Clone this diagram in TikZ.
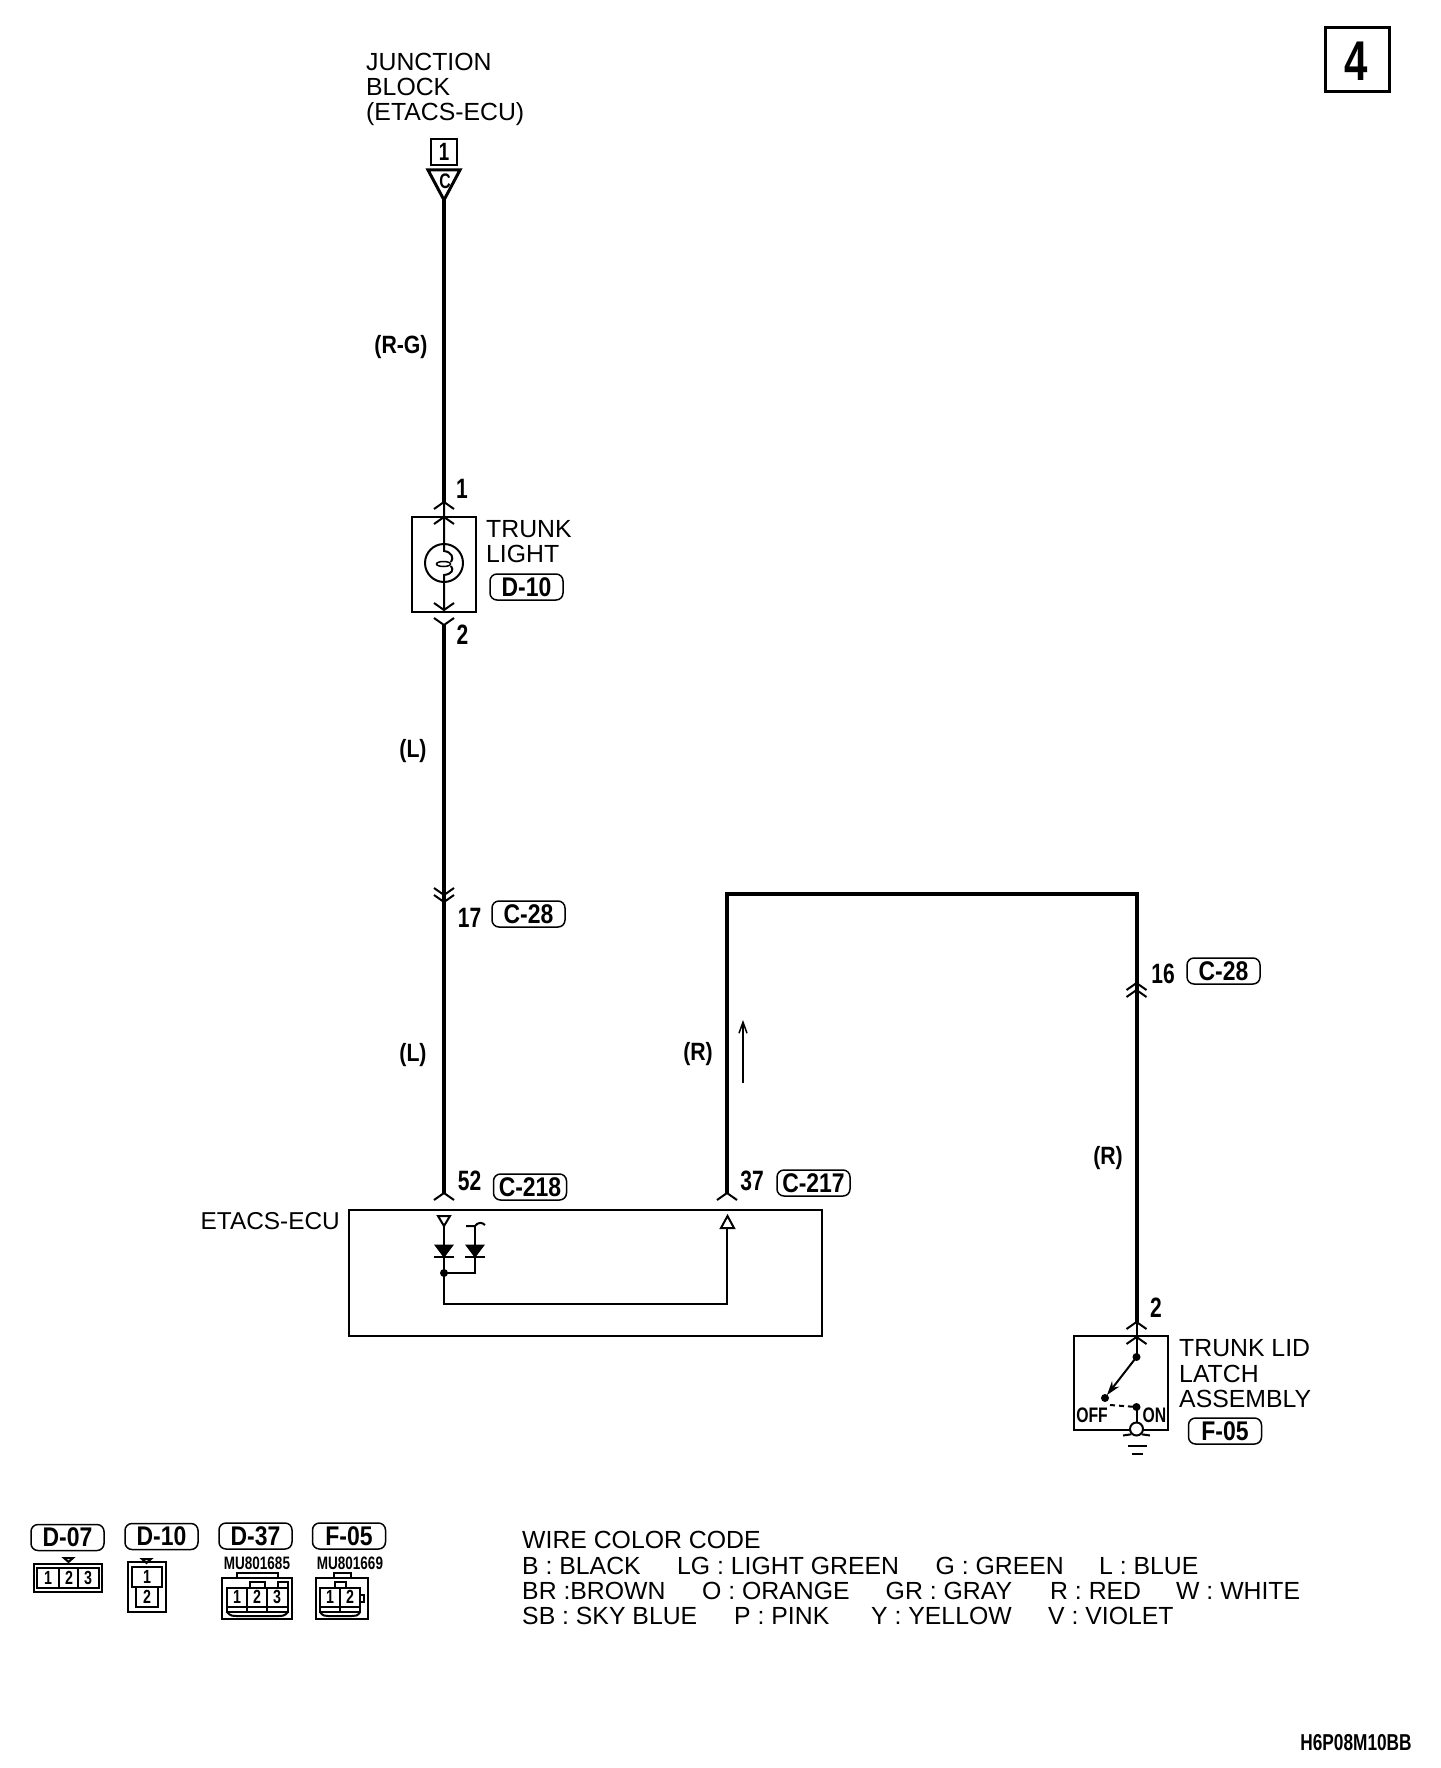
\documentclass[tikz,border=0pt]{standalone}
\usepackage{fontspec}
\setmainfont{Liberation Sans}
\newfontfamily\condfont[FakeStretch=0.75]{Liberation Sans}
\newfontfamily\tagfont[FakeStretch=0.85]{Liberation Sans}
\usetikzlibrary{positioning,arrows.meta}
\newcommand{\pinup}[1]{\draw[thinw, shift={(#1)}] (-10,7) -- (0,0) -- (10,7);}
\newcommand{\pindown}[1]{\draw[thinw, shift={(#1)}] (-10,-7) -- (0,0) -- (10,-7);}
\tikzset{
	wire/.style={line width=4pt},
	thinw/.style={line width=2pt},
	pill/.style={draw, line width=1.5pt, rounded corners=7pt, minimum width=73pt, minimum height=26pt, inner sep=0pt, font=\tagfont\bfseries\fontsize{27}{27}\selectfont},
	name text/.style={anchor=base west, inner sep=0pt, font=\fontsize{24.8}{25}\selectfont},
	pinno/.style={inner sep=0pt, font=\condfont\bfseries\fontsize{28}{28}\selectfont},
	wirelabel/.style={inner sep=0pt, font=\tagfont\bfseries\fontsize{25}{25}\selectfont},
	smallno/.style={inner sep=0pt, font=\condfont\bfseries\fontsize{19}{19}\selectfont},
	partno/.style={inner sep=0pt, font=\condfont\bfseries\fontsize{18}{18}\selectfont},
	housing/.style={draw, line width=2pt, inner sep=0pt},
	diode/.style={fill=black, draw=black, line width=1pt}
}
\begin{document}
\begin{tikzpicture}[x=1pt, y=-1pt]
	\useasboundingbox (0,0) rectangle (1440,1768);

	\node[housing, minimum width=64pt, minimum height=64pt, line width=3pt] (sheetbox) at (1357,60) {};
	\node[inner sep=0pt, font=\condfont\bfseries\fontsize{56}{56}\selectfont] (sheetno) at (1356,61) {4};

	\node[name text] (jb1) at (366,71) {JUNCTION};
	\node[name text] (jb2) at (366,96) {BLOCK};
	\node[name text] (jb3) at (366,121) {(ETACS-ECU)};
	\node[housing, minimum width=26pt, minimum height=26pt] (jbno) at (444,152) {};
	\node[smallno, font=\condfont\bfseries\fontsize{25}{25}\selectfont] (jbone) at (jbno.center) {1};
	\coordinate (jbtip) at (444,200);
	\draw[line width=3pt] (428,170) -- (460,170) -- (jbtip) -- cycle;
	\node[smallno, font=\condfont\bfseries\fontsize{21}{21}\selectfont] (jbc) at (445,181) {C};

	\coordinate (lampin) at (444,502);
	\coordinate (lampout) at (444,625);
	\coordinate (c28a) at (444,902);
	\coordinate (c28b) at (444,895);
	\coordinate (in52) at (444,1193);
	\draw[wire] (jbtip) -- (lampin);
	\draw[wire] (lampout) -- (in52);
	\node[wirelabel] (lblrg) at (401,347) {(R-G)};
	\node[wirelabel] (lbll1) at (413,751) {(L)};
	\node[wirelabel] (lbll2) at (413,1055) {(L)};

	\node[pinno] (pinone) at (462,489) {1};
	\node[pinno] (pintwo) at (462.5,635) {2};
	\node[draw, line width=2pt, inner sep=0pt, minimum width=64pt, minimum height=95pt] (lamp) at (444,564.5) {};
	\node[draw, circle, line width=2pt, inner sep=0pt, minimum size=38pt] (bulb) at (444,563) {};
	\coordinate (lampa) at (444,517);
	\coordinate (lampb) at (444,610);
	\draw[thinw] (lampin) -- (444,551) .. controls (452,552) and (454,558) .. (451,562);
	\draw[line width=1.5pt] (443.5,564) ellipse (7 and 2.5);
	\draw[thinw] (451,566) .. controls (454,570) and (452,574) .. (444,575) -- (lampb);
	\pinup{lampin}
	\pinup{lampa}
	\pindown{lampb}
	\pindown{lampout}
	\node[name text] (lamp1) at (486,537) {TRUNK};
	\node[name text] (lamp2) at (486,562) {LIGHT};
	\node[pill] (tagdten) at (526.5,587) {D-10};

	\pindown{c28b}
	\pindown{c28a}
	\node[pinno] (pinseventeen) at (469.5,918) {17};
	\node[pill] (tagcone) at (528.5,914) {C-28};

	\coordinate (in37) at (727,1193);
	\coordinate (cornera) at (727,894);
	\coordinate (cornerb) at (1136.5,894);
	\coordinate (latchin) at (1136.5,1322);
	\coordinate (c28c) at (1136.5,983);
	\coordinate (c28d) at (1136.5,990);
	\draw[wire] (in37) -- (cornera) -- (cornerb) -- (latchin);
	\pinup{c28c}
	\pinup{c28d}
	\node[pinno] (pinsixteen) at (1163,974) {16};
	\node[pill] (tagctwo) at (1223.5,971) {C-28};
	\node[wirelabel] (lblr1) at (698,1054) {(R)};
	\node[wirelabel] (lblr2) at (1108,1158) {(R)};
	\coordinate (flowa) at (743,1083);
	\coordinate (flowb) at (743,1020);
	\draw[line width=1.5pt, -{Straight Barb[length=11pt,width=8pt]}] (flowa) -- (flowb);

	\pinup{in52}
	\pinup{in37}
	\node[pinno] (pinfiftytwo) at (469.5,1181) {52};
	\node[pill] (tagceight) at (530,1187) {C-218};
	\node[pinno] (pinthirtyseven) at (752,1181) {37};
	\node[pill] (tagcseven) at (813.5,1183) {C-217};

	\node[name text, anchor=base east, font=\fontsize{24.4}{25}\selectfont] (ecuname) at (340,1229) {ETACS-ECU};
	\node[draw, line width=2.5pt, inner sep=0pt, minimum width=473pt, minimum height=126pt] (ecu) at (585.5,1273) {};
	\coordinate (jointa) at (444,1273);
	\coordinate (ecuin) at (727,1228);
	\draw[thinw] (438,1216) -- (450,1216) -- (444,1226) -- cycle;
	\draw[thinw] (444,1226) -- (jointa);
	\draw[thinw] (475,1226) -- (475,1273) -- (jointa);
	\draw[thinw] (466,1226) -- (475,1226) .. controls (478,1222) and (482,1222) .. (485,1225);
	\foreach \x in {444, 475} {
		\draw[diode] (\x-9,1245) -- (\x+9,1245) -- (\x,1257) -- cycle;
		\draw[thinw] (\x-10,1257) -- (\x+10,1257);
	}
	\fill (jointa) circle (4);
	\draw[thinw] (jointa) -- (444,1304) -- (727,1304) -- (ecuin);
	\draw[thinw] (721,1228) -- (734,1228) -- (727.5,1216) -- cycle;

	\node[pinno] (pinlatch) at (1156,1308) {2};
	\node[draw, line width=2pt, inner sep=0pt, minimum width=94pt, minimum height=94pt] (latch) at (1121,1383) {};
	\coordinate (lata) at (1136.5,1337);
	\coordinate (latb) at (1136.5,1357);
	\coordinate (latc) at (1105,1398);
	\coordinate (latd) at (1136.5,1407);
	\draw[thinw] (latchin) -- (latb);
	\pinup{latchin}
	\pinup{lata}
	\fill (latb) circle (4);
	\fill (latc) circle (4);
	\fill (latd) circle (4);
	\draw[thinw, -{Stealth[length=14pt,width=9pt]}] (latb) -- (1107,1395);
	\draw[thinw, dash pattern=on 5pt off 4pt] (1110,1405) -- (latd);
	\node[draw, circle, line width=2pt, fill=white, inner sep=0pt, minimum size=13pt] (gndlamp) at (1136.5,1429) {};
	\draw[thinw] (latd) -- (gndlamp);
	\draw[thinw] (1123,1435.5) -- (gndlamp.south west);
	\draw[thinw] (gndlamp.south east) -- (1150,1435.5);
	\draw[thinw] (1128,1446) -- (1147,1446);
	\draw[thinw] (1132,1454) -- (1143,1454);
	\node[smallno, font=\condfont\bfseries\fontsize{21}{21}\selectfont] (latoff) at (1092,1415) {OFF};
	\node[smallno, font=\condfont\bfseries\fontsize{21}{21}\selectfont] (laton) at (1154.5,1415) {ON};
	\node[name text] (lat1) at (1179,1356) {TRUNK LID};
	\node[name text] (lat2) at (1179,1382) {LATCH};
	\node[name text] (lat3) at (1179,1407) {ASSEMBLY};
	\node[pill] (tagfzero) at (1225,1431) {F-05};

	\node[pill] (keydseven) at (67.5,1537.5) {D-07};
	\node[pill] (keydten) at (161.5,1536.5) {D-10};
	\node[pill] (keydthree) at (255.5,1536) {D-37};
	\node[pill] (keyfzero) at (349,1536) {F-05};

	\draw[thinw] (34,1564) rectangle (102,1592);
	\draw[thinw] (37,1568) rectangle (99,1588);
	\draw[thinw] (59,1568) -- (59,1588);
	\draw[thinw] (78,1568) -- (78,1588);
	\draw[thinw] (64,1558) -- (73,1558) -- (68.5,1562) -- cycle;
	\foreach \x/\t in {48/1, 69/2, 88/3} {
		\node[smallno] (dseven\t) at (\x,1578) {\t};
	}

	\draw[thinw] (128,1562) rectangle (166,1612);
	\draw[thinw] (132,1567) rectangle (162,1587);
	\draw[thinw] (136,1587) rectangle (158,1607);
	\draw[thinw] (142,1559) -- (151,1559) -- (146.5,1563) -- cycle;
	\node[smallno] (dtenone) at (147,1577) {1};
	\node[smallno] (dtentwo) at (147,1597) {2};

	\node[partno] (partdthree) at (257,1563) {MU801685};
	\draw[thinw] (222,1578) rectangle (292,1619);
	\draw[thinw] (237,1578) -- (237,1573) -- (278,1573) -- (278,1578);
	\draw[thinw] (227,1588) rectangle (288,1612);
	\draw[thinw] (247,1588) -- (247,1612);
	\draw[thinw] (267,1588) -- (267,1612);
	\draw[thinw] (250,1588) -- (250,1582) -- (265,1582) -- (265,1588);
	\draw[thinw] (278,1588) -- (278,1582) -- (288,1582) -- (288,1588);
	\draw[thinw] (227,1607) -- (288,1607);
	\draw[thinw] (227,1612) .. controls (230,1616) and (233,1616) .. (237,1616) -- (278,1616) .. controls (282,1616) and (285,1616) .. (288,1612);
	\foreach \x/\t in {237/1, 257/2, 277/3} {
		\node[smallno] (dthree\t) at (\x,1597) {\t};
	}

	\node[partno] (partfzero) at (350,1563) {MU801669};
	\draw[thinw] (316,1578) rectangle (368,1619);
	\draw[thinw] (334,1578) -- (334,1573) -- (351,1573) -- (351,1578);
	\draw[thinw] (320,1588) rectangle (360,1612);
	\draw[thinw] (340,1588) -- (340,1612);
	\draw[thinw] (335,1588) -- (335,1582) -- (346,1582) -- (346,1588);
	\draw[thinw] (360,1595) -- (364,1595) -- (364,1602) -- (360,1602);
	\draw[thinw] (320,1607) -- (360,1607);
	\draw[thinw] (320,1612) .. controls (323,1616) and (325,1616) .. (328,1616) -- (352,1616) .. controls (355,1616) and (358,1616) .. (360,1612);
	\foreach \x/\t in {330/1, 350/2} {
		\node[smallno] (fzero\t) at (\x,1597) {\t};
	}

	\node[name text] (codehead) at (522,1548.5) {WIRE COLOR CODE};
	\foreach \x/\t [count=\i] in {522/B : BLACK, 677/LG : LIGHT GREEN, 935.5/G : GREEN, 1099/L : BLUE} {
		\node[name text] (rowa\i) at (\x,1574.5) {\t};
	}
	\foreach \x/\t [count=\i] in {522/BR :BROWN, 702/O : ORANGE, 885.5/GR : GRAY, 1050/R : RED, 1176/W : WHITE} {
		\node[name text] (rowb\i) at (\x,1599) {\t};
	}
	\foreach \x/\t [count=\i] in {522/SB : SKY BLUE, 734/P : PINK, 871/Y : YELLOW, 1048/V : VIOLET} {
		\node[name text] (rowc\i) at (\x,1624.5) {\t};
	}

	\node[inner sep=0pt, font=\condfont\bfseries\fontsize{23}{23}\selectfont] (drawingno) at (1356,1743) {H6P08M10BB};
\end{tikzpicture}
\end{document}
